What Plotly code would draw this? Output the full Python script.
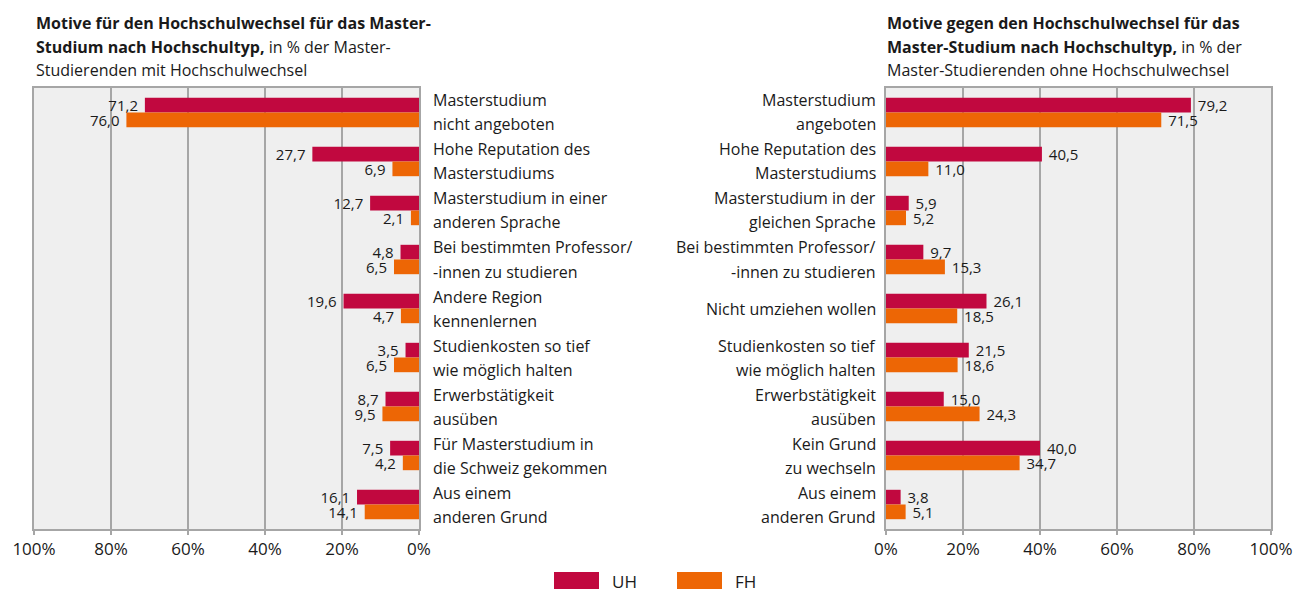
import plotly.graph_objects as go

# ---------------- data ----------------
left_categories = [
    "Masterstudium<br>nicht angeboten",
    "Hohe Reputation des<br>Masterstudiums",
    "Masterstudium in einer<br>anderen Sprache",
    "Bei bestimmten Professor/<br>-innen zu studieren",
    "Andere Region<br>kennenlernen",
    "Studienkosten so tief<br>wie möglich halten",
    "Erwerbstätigkeit<br>ausüben",
    "Für Masterstudium in<br>die Schweiz gekommen",
    "Aus einem<br>anderen Grund",
]
left_uh = [71.2, 27.7, 12.7, 4.8, 19.6, 3.5, 8.7, 7.5, 16.1]
left_fh = [76.0, 6.9, 2.1, 6.5, 4.7, 6.5, 9.5, 4.2, 14.1]

right_categories = [
    "Masterstudium<br>angeboten",
    "Hohe Reputation des<br>Masterstudiums",
    "Masterstudium in der<br>gleichen Sprache",
    "Bei bestimmten Professor/<br>-innen zu studieren",
    "Nicht umziehen wollen",
    "Studienkosten so tief<br>wie möglich halten",
    "Erwerbstätigkeit<br>ausüben",
    "Kein Grund<br>zu wechseln",
    "Aus einem<br>anderen Grund",
]
right_uh = [79.2, 40.5, 5.9, 9.7, 26.1, 21.5, 15.0, 40.0, 3.8]
right_fh = [71.5, 11.0, 5.2, 15.3, 18.5, 18.6, 24.3, 34.7, 5.1]

series_names = ["UH", "FH"]
tick_values = [0, 20, 40, 60, 80, 100]
tick_labels = ["0%", "20%", "40%", "60%", "80%", "100%"]

left_title = [
    "<b>Motive für den Hochschulwechsel für das Master-</b>",
    "<b>Studium nach Hochschultyp,</b> in % der Master-",
    "Studierenden mit Hochschulwechsel",
]
right_title = [
    "<b>Motive gegen den Hochschulwechsel für das</b>",
    "<b>Master-Studium nach Hochschultyp,</b> in % der",
    "Master-Studierenden ohne Hochschulwechsel",
]

# ---------------- style ----------------
W, H = 1302, 589
OFF = 8  # default page body margin
UH_COLOR = "#c1083f"
FH_COLOR = "#ed6605"
TEXT = "#1a1a1a"
GRID = "#a6a6a6"
BG = "#efefef"
FONT = "Open Sans"
NBSP = "\u00a0"


def px_x(p):
    return (p - OFF) / W


def px_y(p):
    return 1 - (p - OFF) / H


def fmt(v):
    return f"{v:.1f}".replace(".", ",")


fig = go.Figure()
positions = list(range(len(left_categories)))

for side, uh, fh in [("left", left_uh, left_fh), ("right", right_uh, right_fh)]:
    for name, vals, col in [(series_names[0], uh, UH_COLOR), (series_names[1], fh, FH_COLOR)]:
        if side == "left":
            labels = [fmt(v) + NBSP for v in vals]
        else:
            labels = [NBSP + fmt(v) for v in vals]
        fig.add_trace(go.Bar(
            x=vals, y=positions, orientation="h", name=name,
            marker=dict(color=col, line=dict(width=0)),
            text=labels, textposition="outside",
            textfont=dict(family=FONT, size=15, color=TEXT),
            constraintext="none", cliponaxis=False,
            xaxis="x" if side == "left" else "x2",
            yaxis="y" if side == "left" else "y2",
            offsetgroup=name, showlegend=False, hoverinfo="skip",
        ))

plot_top, plot_bottom = 88, 529
ydom = [px_y(plot_bottom), px_y(plot_top)]

axis_common = dict(
    tickvals=tick_values, ticktext=tick_labels,
    showgrid=True, gridcolor=GRID, gridwidth=2,
    showline=True, linecolor=GRID, linewidth=2, mirror=True,
    ticks="outside", ticklen=4, tickcolor=GRID, tickwidth=2,
    tickfont=dict(family=FONT, size=17, color=TEXT),
    zeroline=False, fixedrange=True, automargin=False,
)
yaxis_common = dict(
    range=[len(positions) - 0.5, -0.5], showticklabels=False,
    showgrid=False, zeroline=False, showline=True, linecolor=GRID,
    linewidth=2, mirror=True, ticks="", domain=ydom, fixedrange=True,
    automargin=False,
)

fig.update_layout(
    width=W, height=H, autosize=False,
    margin=dict(l=0, r=0, t=0, b=0, pad=0),
    paper_bgcolor="white", plot_bgcolor=BG,
    barmode="group", bargap=0.4, bargroupgap=0,
    showlegend=False,
    font=dict(family=FONT, color=TEXT),
    xaxis=dict(domain=[px_x(34), px_x(419)], range=[100, 0], anchor="y", **axis_common),
    yaxis=dict(anchor="x", **yaxis_common),
    xaxis2=dict(domain=[px_x(886), px_x(1271)], range=[0, 100], anchor="y2", **axis_common),
    yaxis2=dict(anchor="x2", **yaxis_common),
)

annotations = []
# category labels (each line placed separately to reproduce the line spacing)
for cats, xpos, anchor, yref in [(left_categories, px_x(431), "left", "y"),
                                 (right_categories, px_x(878), "right", "y2")]:
    for i, lab in enumerate(cats):
        lines = lab.split("<br>")
        n = len(lines)
        for j, line in enumerate(lines):
            shift = (n - 1) * 12 - j * 24
            annotations.append(dict(
                x=xpos, xref="paper", y=i, yref=yref, yshift=shift,
                text=line, showarrow=False, xanchor=anchor, yanchor="middle",
                font=dict(family=FONT, size=16, color=TEXT),
            ))

# titles
for lines, xpos in [(left_title, 34), (right_title, 885)]:
    for j, line in enumerate(lines):
        annotations.append(dict(
            x=px_x(xpos), xref="paper", y=px_y(23 + j * 23.5), yref="paper",
            text=line, showarrow=False, xanchor="left", yanchor="middle",
            font=dict(family=FONT, size=16, color=TEXT),
        ))

# legend
legend_items = [(series_names[0], UH_COLOR, 554), (series_names[1], FH_COLOR, 677)]
shapes = []
for name, col, x0 in legend_items:
    shapes.append(dict(type="rect", xref="paper", yref="paper",
                       x0=px_x(x0), x1=px_x(x0 + 45), y0=px_y(592), y1=px_y(572),
                       fillcolor=col, line=dict(width=0)))
    annotations.append(dict(
        x=px_x(x0 + 56), xref="paper", y=px_y(581), yref="paper",
        text=name, showarrow=False, xanchor="left", yanchor="middle",
        font=dict(family=FONT, size=17, color=TEXT),
    ))

fig.update_layout(annotations=annotations, shapes=shapes)
fig.write_html("out.html")
